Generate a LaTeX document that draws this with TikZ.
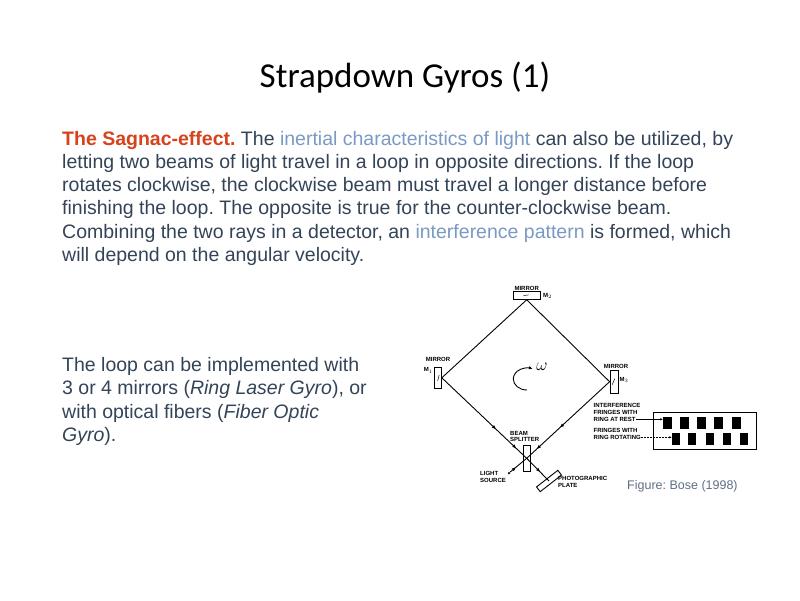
\documentclass[tikz,border=0pt]{standalone}
\usepackage{fontspec}
\setmainfont{Liberation Sans}
\newfontfamily\titlefont{Carlito}
\usetikzlibrary{arrows.meta,decorations.markings}
\frenchspacing

\definecolor{sagred}{RGB}{215,66,28}
\definecolor{bodytext}{RGB}{52,68,88}
\definecolor{hilite}{RGB}{122,154,196}
\definecolor{figcap}{RGB}{96,112,135}

\tikzset{
  mirror/.style={draw, line width=0.9pt, inner sep=0pt},
  beam/.style={line width=0.9pt},
  beamtip/.style={postaction={decorate, decoration={markings,
      mark=at position #1 with {\arrow{Latex[length=4pt,width=3.5pt]}}}}},
  lbl/.style={font=\fontsize{6}{6.5}\selectfont\bfseries, inner sep=0pt, align=left},
  fringe/.style={fill=black, inner sep=0pt, minimum width=8.5pt, minimum height=12pt},
  slide/.style={inner sep=0pt, align=left, text=bodytext, font=\fontsize{19.5}{23.3}\selectfont},
}

\begin{document}
\begin{tikzpicture}[x=1pt,y=-1pt]
	\fill[white] (0,0) rectangle (800,600);
	\useasboundingbox (0,0) rectangle (800,600);
	% slide text (base = last line)
	\node (title) at (405,87) [anchor=base, inner sep=0pt, font=\titlefont\fontsize{35}{40}\selectfont] {Strapdown Gyros (1)};
	\node (intro) at (62,261.5) [slide, anchor=base west] {{\bfseries\color{sagred}The Sagnac-effect.} The {\color{hilite}inertial characteristics of light} can also be utilized, by\\
	letting two beams of light travel in a loop in opposite directions. If the loop\\
	rotates clockwise, the clockwise beam must travel a longer distance before\\
	finishing the loop. The opposite is true for the counter-clockwise beam.\\
	Combining the two rays in a detector, an {\color{hilite}interference pattern} is formed, which\\
	will depend on the angular velocity.};
	\node (impl) at (62,441.4) [slide, anchor=base west] {The loop can be implemented with\\
	3 or 4 mirrors (\textit{Ring Laser Gyro}), or\\
	with optical fibers (\textit{Fiber Optic}\\
	\textit{Gyro}).};
	\node (cap) at (627,489) [anchor=base west, inner sep=0pt, text=figcap, font=\fontsize{12.5}{14}\selectfont] {Figure: Bose (1998)};
	% mirrors, splitter, plate
	\node (m2) at (526.7,295.5) [mirror, minimum width=27pt, minimum height=7.6pt] {};
	\node (m1) at (437.7,377.8) [mirror, minimum width=7.3pt, minimum height=21pt] {};
	\node (m3) at (614.2,381.7) [mirror, minimum width=8.3pt, minimum height=23.3pt] {};
	\node (bs) at (526.7,458.3) [mirror, minimum width=7pt, minimum height=26pt] {};
	\node (plate) at (549,481) [mirror, rotate=38, minimum width=27pt, minimum height=6pt] {};
	\node (src) at (509,473) [circle, fill=black, inner sep=0pt, minimum size=2.5pt] {};
	\draw[line width=0.5pt] ([xshift=-3pt]m2.center) -- ([xshift=2pt,yshift=0.6pt]m2.center);
	\draw[line width=0.5pt] ([yshift=-3pt]m1.center) -- ([xshift=1.5pt,yshift=3pt]m1.center);
	\draw[line width=0.5pt] ([xshift=-2pt,yshift=-3pt]m3.center) -- ([xshift=0.5pt,yshift=3pt]m3.center);
	% the loop
	\draw[beam] (m1.east) -- (m2.south) -- (m3.west);
	\draw[beam, beamtip=0.64, beamtip=0.88] (m1.east) -- (bs.center);
	\draw[beam, beamtip=0.6, beamtip=0.88] (m3.west) -- (bs.center);
	\draw[beam, beamtip=0.35] (src) -- (bs.center);
	\draw[beam, beamtip=0.6] (bs.center) -- (plate.center);
	% rotation
	\draw[line width=0.9pt, -{Latex[length=3.5pt,width=3.5pt]}] (527,390) arc[start angle=90, end angle=293, x radius=13.7, y radius=11];
	\node (omega) at (542,367) [inner sep=0pt, font=\fontsize{17}{19}\selectfont] {$\omega$};
	% labels
	\node at (526.7,288) [lbl] {MIRROR};
	\node at (543,296) [lbl, anchor=west] {M$_2$};
	\node at (438,359) [lbl] {MIRROR};
	\node at (433,370.5) [lbl, anchor=east] {M$_1$};
	\node at (616,366) [lbl] {MIRROR};
	\node at (619.5,380) [lbl, anchor=west] {M$_3$};
	\node at (510,436.5) [lbl, anchor=west] {BEAM\\SPLITTER};
	\node at (480,476.7) [lbl, anchor=west] {LIGHT\\SOURCE};
	\node at (558,481.8) [lbl, anchor=west] {PHOTOGRAPHIC\\PLATE};
	% fringes
	\node (screen) at (704.5,430.5) [draw, line width=0.9pt, minimum width=103pt, minimum height=37pt] {};
	\foreach \x [count=\i] in {667.3,684.3,701.3,718.3,736.3}
		\node (top\i) at (\x,423.3) [fringe] {};
	\foreach \x [count=\i] in {676,692,710,727,744}
		\node (bot\i) at (\x,439.2) [fringe, minimum width=8pt] {};
	\node (intf) at (593.5,409) [lbl, anchor=west] {INTERFERENCE\\FRINGES WITH};
	\node (rest) at (593.5,419.3) [lbl, anchor=west] {RING AT REST};
	\node (fw) at (593.5,430) [lbl, anchor=west] {FRINGES WITH};
	\node (rot) at (593.5,437.3) [lbl, anchor=west] {RING ROTATING};
	\draw[line width=0.6pt, -{Latex[length=2.5pt,width=2.5pt]}] (rest.east) -- (rest.east -| top1.west);
	\draw[line width=0.6pt, dashed, dash pattern=on 2pt off 1pt, -{Latex[length=2.5pt,width=2.5pt]}] (rot.east) -- (rot.east -| bot1.west);
\end{tikzpicture}
\end{document}
